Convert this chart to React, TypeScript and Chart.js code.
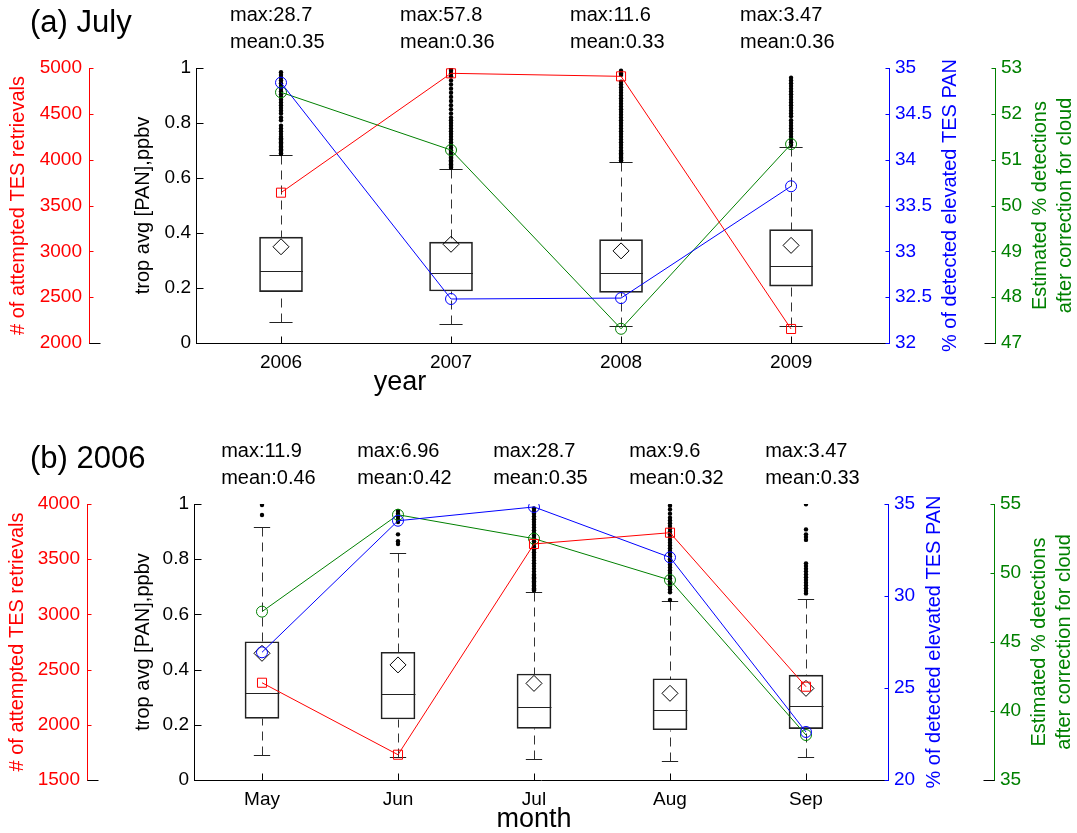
import React, { useEffect, useRef } from 'react';
import { Chart, registerables } from 'chart.js';

Chart.register(...registerables);

const FONT = '"Liberation Sans", Arial, Helvetica, sans-serif';
const RED = '#ff0000';
const BLUE = '#0000ff';
const GREEN = '#008000';

// ---------------- Panel (a) July ----------------
const julyYears = ['2006', '2007', '2008', '2009'];
const julyQ1 = [0.187, 0.189, 0.184, 0.207];
const julyMedian = [0.262, 0.256, 0.256, 0.28];
const julyQ3 = [0.385, 0.367, 0.376, 0.412];
const julyWhiskerLow = [0.076, 0.069, 0.062, 0.063];
const julyWhiskerHigh = [0.682, 0.633, 0.658, 0.713];
const julyMean = [0.35, 0.359, 0.335, 0.355];
const julyOutliers = [
  [0.985, 0.975, 0.965, 0.955, 0.945, 0.935, 0.925, 0.915, 0.905, 0.895, 0.885, 0.875, 0.865, 0.855, 0.845, 0.835, 0.82, 0.81, 0.79, 0.78, 0.77, 0.76, 0.75, 0.745, 0.74, 0.735, 0.73, 0.725, 0.72, 0.715, 0.71, 0.705, 0.7, 0.695, 0.69, 0.687],
  [0.998, 0.99, 0.98, 0.97, 0.955, 0.94, 0.925, 0.91, 0.895, 0.88, 0.865, 0.85, 0.835, 0.82, 0.81, 0.8, 0.79, 0.78, 0.77, 0.76, 0.75, 0.74, 0.73, 0.72, 0.71, 0.7, 0.695, 0.69, 0.685, 0.68, 0.675, 0.67, 0.665, 0.66, 0.655, 0.65, 0.645, 0.64, 0.637],
  [0.99, 0.98, 0.975, 0.95, 0.94, 0.93, 0.92, 0.91, 0.9, 0.89, 0.88, 0.87, 0.86, 0.85, 0.84, 0.83, 0.82, 0.81, 0.8, 0.79, 0.78, 0.77, 0.76, 0.75, 0.74, 0.73, 0.72, 0.71, 0.7, 0.695, 0.69, 0.685, 0.68, 0.675, 0.67, 0.665, 0.662],
  [0.965, 0.955, 0.945, 0.935, 0.925, 0.915, 0.905, 0.895, 0.885, 0.875, 0.865, 0.855, 0.845, 0.835, 0.825, 0.81, 0.8, 0.79, 0.78, 0.77, 0.76, 0.75, 0.74, 0.73, 0.72],
];
const julyAttempted = [3640, 4942, 4909, 2153];
const julyDetected = [34.84, 32.48, 32.49, 33.71];
const julyCorrected = [52.47, 51.21, 47.31, 51.34];
const julyMaxText = ['28.7', '57.8', '11.6', '3.47'];
const julyMeanText = ['0.35', '0.36', '0.33', '0.36'];
const julyRedTicks = [2000, 2500, 3000, 3500, 4000, 4500, 5000];
const julyBlackTicks = [0, 0.2, 0.4, 0.6, 0.8, 1];
const julyBlueTicks = [32, 32.5, 33, 33.5, 34, 34.5, 35];
const julyGreenTicks = [47, 48, 49, 50, 51, 52, 53];

// ---------------- Panel (b) 2006 ----------------
const months2006 = ['May', 'Jun', 'Jul', 'Aug', 'Sep'];
const monthQ1 = [0.223, 0.221, 0.187, 0.182, 0.186];
const monthMedian = [0.314, 0.312, 0.263, 0.253, 0.269];
const monthQ3 = [0.501, 0.463, 0.384, 0.367, 0.38];
const monthWhiskerLow = [0.091, 0.082, 0.076, 0.068, 0.084];
const monthWhiskerHigh = [0.918, 0.824, 0.682, 0.647, 0.656];
const monthMean = [0.459, 0.417, 0.35, 0.314, 0.332];
const monthOutliers = [
  [0.996, 0.96],
  [0.975, 0.965, 0.955, 0.945, 0.935, 0.89, 0.865, 0.855],
  [0.984, 0.975, 0.965, 0.955, 0.945, 0.935, 0.925, 0.915, 0.905, 0.895, 0.885, 0.875, 0.865, 0.855, 0.845, 0.835, 0.825, 0.815, 0.805, 0.795, 0.785, 0.775, 0.765, 0.755, 0.745, 0.74, 0.735, 0.73, 0.725, 0.72, 0.715, 0.71, 0.705, 0.7, 0.695, 0.69, 0.687],
  [0.994, 0.98, 0.965, 0.95, 0.94, 0.93, 0.92, 0.91, 0.9, 0.89, 0.88, 0.87, 0.86, 0.85, 0.84, 0.83, 0.82, 0.81, 0.8, 0.79, 0.78, 0.77, 0.76, 0.75, 0.74, 0.73, 0.72, 0.71, 0.7, 0.69, 0.68, 0.652],
  [0.999, 0.908, 0.89, 0.88, 0.87, 0.785, 0.775, 0.765, 0.755, 0.745, 0.735, 0.725, 0.715, 0.705, 0.695, 0.685, 0.676],
];
const monthAttempted = [2381, 1729, 3638, 3740, 2345];
const monthDetected = [26.94, 34.09, 34.84, 32.1, 22.61];
const monthCorrected = [47.2, 54.22, 52.49, 49.49, 38.26];
const monthMaxText = ['11.9', '6.96', '28.7', '9.6', '3.47'];
const monthMeanText = ['0.46', '0.42', '0.35', '0.32', '0.33'];
const monthRedTicks = [1500, 2000, 2500, 3000, 3500, 4000];
const monthBlackTicks = [0, 0.2, 0.4, 0.6, 0.8, 1];
const monthBlueTicks = [20, 25, 30, 35];
const monthGreenTicks = [35, 40, 45, 50, 55];

const RED_TITLE = '# of attempted TES retrievals';
const BLACK_TITLE = 'trop avg [PAN],ppbv';
const BLUE_TITLE = '% of detected elevated TES PAN';
const GREEN_TITLE_1 = 'Estimated % detections';
const GREEN_TITLE_2 = 'after correction for cloud';

type Panel = {
  title: string;
  xTitle: string;
  labels: string[];
  q1: number[]; med: number[]; q3: number[]; lo: number[]; hi: number[]; mean: number[];
  outliers: number[][];
  attempted: number[]; detected: number[]; corrected: number[];
  maxText: string[]; meanText: string[];
  redTicks: number[]; blackTicks: number[]; blueTicks: number[]; greenTicks: number[];
  // layout
  height: number; padTop: number; xAxisH: number; xMax: number; xTitleAt: number;
  boxPx: number; capHalf: number;
  redW: number; blackW: number; blueW: number; greenW: number;
  redTitlePad: number; blackTitlePad: number; blueTitleOff: number;
};

const panels: Panel[] = [
  {
    title: '(a) July', xTitle: 'year', labels: julyYears,
    q1: julyQ1, med: julyMedian, q3: julyQ3, lo: julyWhiskerLow, hi: julyWhiskerHigh, mean: julyMean,
    outliers: julyOutliers, attempted: julyAttempted, detected: julyDetected, corrected: julyCorrected,
    maxText: julyMaxText, meanText: julyMeanText,
    redTicks: julyRedTicks, blackTicks: julyBlackTicks, blueTicks: julyBlueTicks, greenTicks: julyGreenTicks,
    height: 415, padTop: 68, xAxisH: 72, xMax: 4.576, xTitleAt: 1.7,
    boxPx: 43, capHalf: 0.068,
    redW: 89, blackW: 107, blueW: 106, greenW: 82,
    redTitlePad: 6, blackTitlePad: 42, blueTitleOff: 61,
  },
  {
    title: '(b) 2006', xTitle: 'month', labels: months2006,
    q1: monthQ1, med: monthMedian, q3: monthQ3, lo: monthWhiskerLow, hi: monthWhiskerHigh, mean: monthMean,
    outliers: monthOutliers, attempted: monthAttempted, detected: monthDetected, corrected: monthCorrected,
    maxText: monthMaxText, meanText: monthMeanText,
    redTicks: monthRedTicks, blackTicks: monthBlackTicks, blueTicks: monthBlueTicks, greenTicks: monthGreenTicks,
    height: 418, padTop: 89, xAxisH: 53, xMax: 5.603, xTitleAt: 3.0,
    boxPx: 34, capHalf: 0.06,
    redW: 87, blackW: 107, blueW: 106, greenW: 83,
    redTitlePad: 5.5, blackTitlePad: 44, blueTitleOff: 46,
  },
];

const fmt = (v: number) => String(+Number(v).toFixed(2));
const al = (v: number) => Math.round(v) + 0.5;

function makePlugin(p: Panel) {
  return {
    id: 'boxExtras',
    beforeDatasetsDraw(chart: any) {
      const ctx = chart.ctx;
      const xs = chart.scales.x;
      const ys = chart.scales.y;
      ctx.save();
      ctx.lineWidth = 1;
      p.labels.forEach((_, i) => {
        const cx = al(xs.getPixelForValue(i + 1));
        const half = p.boxPx / 2;
        const capL = xs.getPixelForValue(i + 1 - p.capHalf);
        const capR = xs.getPixelForValue(i + 1 + p.capHalf);
        const yq1 = al(ys.getPixelForValue(p.q1[i]));
        const yq3 = al(ys.getPixelForValue(p.q3[i]));
        const ylo = al(ys.getPixelForValue(p.lo[i]));
        const yhi = al(ys.getPixelForValue(p.hi[i]));
        const ymed = al(ys.getPixelForValue(p.med[i]));
        ctx.strokeStyle = '#333';
        ctx.setLineDash([9, 6]);
        ctx.beginPath();
        ctx.moveTo(cx, yhi); ctx.lineTo(cx, yq3);
        ctx.moveTo(cx, ylo); ctx.lineTo(cx, yq1);
        ctx.stroke();
        ctx.setLineDash([]);
        ctx.strokeStyle = '#222';
        ctx.beginPath();
        ctx.moveTo(capL, yhi); ctx.lineTo(capR, yhi);
        ctx.moveTo(capL, ylo); ctx.lineTo(capR, ylo);
        ctx.moveTo(cx - half, ymed); ctx.lineTo(cx + half, ymed);
        ctx.stroke();
      });
      ctx.restore();
    },
    afterDraw(chart: any) {
      const ctx = chart.ctx;
      const { top, bottom } = chart.chartArea;
      const xs = chart.scales.x;
      ctx.save();
      ctx.lineWidth = 1;
      // inward tick marks
      const yTicks = (id: string, len: number, color: string) => {
        const s = chart.scales[id];
        const left = s.position === 'left';
        const bx = al(left ? s.right : s.left);
        const dir = left ? 1 : -1;
        ctx.strokeStyle = color;
        ctx.beginPath();
        s.ticks.forEach((t: any) => {
          const y = al(s.getPixelForValue(t.value));
          ctx.moveTo(bx, y); ctx.lineTo(bx + dir * len, y);
        });
        ctx.stroke();
      };
      yTicks('yRed', 4, RED);
      yTicks('y', 7, '#000');
      yTicks('yBlue', 4, BLUE);
      yTicks('yGreen', 4, GREEN);
      ctx.strokeStyle = '#000';
      ctx.beginPath();
      xs.ticks.forEach((t: any) => {
        const x = al(xs.getPixelForValue(t.value));
        ctx.moveTo(x, al(bottom)); ctx.lineTo(x, al(bottom) - 7);
      });
      // short base lines of the red and green axes
      const rx = al(chart.scales.yRed.right);
      const gx = al(chart.scales.yGreen.left);
      ctx.moveTo(rx, al(bottom)); ctx.lineTo(rx + 11, al(bottom));
      ctx.moveTo(gx - 11, al(bottom)); ctx.lineTo(gx, al(bottom));
      ctx.stroke();

      // texts
      ctx.fillStyle = '#000';
      ctx.textAlign = 'left';
      ctx.textBaseline = 'alphabetic';
      ctx.font = `31px ${FONT}`;
      ctx.fillText(p.title, 30, top - 36);
      ctx.font = `20px ${FONT}`;
      p.labels.forEach((_, i) => {
        const x = xs.getPixelForValue(i + 1 - 0.3);
        ctx.fillText('max:' + p.maxText[i], x, top - 47);
        ctx.fillText('mean:' + p.meanText[i], x, top - 20);
      });
      ctx.font = `27px ${FONT}`;
      ctx.textAlign = 'center';
      ctx.fillText(p.xTitle, xs.getPixelForValue(p.xTitleAt), bottom + 47);

      const midY = (top + bottom) / 2;
      const rot = (text: string, x: number, color: string) => {
        ctx.save();
        ctx.translate(x, midY);
        ctx.rotate(-Math.PI / 2);
        ctx.fillStyle = color;
        ctx.font = `20px ${FONT}`;
        ctx.textAlign = 'center';
        ctx.textBaseline = 'middle';
        ctx.fillText(text, 0, 0);
        ctx.restore();
      };
      rot(BLUE_TITLE, chart.scales.yBlue.left + p.blueTitleOff, BLUE);
      rot(GREEN_TITLE_1, chart.scales.yGreen.left + 45, GREEN);
      rot(GREEN_TITLE_2, chart.scales.yGreen.left + 70, GREEN);
      ctx.restore();
    },
  };
}

function yScale(position: string, weight: number, ticks: number[], color: string, width: number, pad: number, title?: { text: string; pad: number; color: string }) {
  return {
    type: 'linear',
    position,
    weight,
    min: ticks[0],
    max: ticks[ticks.length - 1],
    grid: { display: false, drawTicks: false, drawOnChartArea: false },
    border: { display: true, color, width: 1 },
    ticks: { color, font: { family: FONT, size: 19 }, padding: pad, callback: (v: any) => fmt(v) },
    afterBuildTicks: (s: any) => { s.ticks = ticks.map((v) => ({ value: v })); },
    afterFit: (s: any) => { s.width = width; },
    title: title
      ? { display: true, text: title.text, color: title.color, font: { family: FONT, size: 20 }, padding: { top: title.pad, bottom: 0 } }
      : { display: false },
  };
}

function buildConfig(p: Panel): any {
  const pts = (vals: number[]) => vals.map((v, i) => ({ x: i + 1, y: v }));
  const outlierPts: { x: number; y: number }[] = [];
  p.outliers.forEach((arr, i) => arr.forEach((v) => outlierPts.push({ x: i + 1, y: v })));
  const lineDs = (data: number[], color: string, axis: string, style: string, r: number, order: number) => ({
    type: 'line',
    data: pts(data),
    yAxisID: axis,
    xAxisID: 'x',
    borderColor: color,
    borderWidth: 1,
    backgroundColor: 'transparent',
    pointStyle: style,
    pointRadius: r,
    pointBorderColor: color,
    pointBackgroundColor: 'transparent',
    pointBorderWidth: 1,
    tension: 0,
    fill: false,
    order,
  });
  return {
    type: 'bar',
    data: {
      datasets: [
        {
          type: 'bar',
          data: p.q1.map((v, i) => ({ x: i + 1, y: [v, p.q3[i]] })),
          xAxisID: 'x',
          yAxisID: 'y',
          backgroundColor: 'transparent',
          borderColor: '#222',
          borderWidth: 1,
          borderSkipped: false,
          barThickness: p.boxPx,
          order: 10,
        },
        {
          type: 'line',
          data: outlierPts,
          xAxisID: 'x',
          yAxisID: 'y',
          showLine: false,
          pointRadius: 2.2,
          pointBackgroundColor: '#000',
          pointBorderWidth: 0,
          order: 9,
        },
        {
          type: 'line',
          data: pts(p.mean),
          xAxisID: 'x',
          yAxisID: 'y',
          showLine: false,
          pointStyle: 'rectRot',
          pointRadius: 8,
          pointBorderColor: '#000',
          pointBackgroundColor: 'transparent',
          pointBorderWidth: 1,
          order: 8,
        },
        lineDs(p.corrected, GREEN, 'yGreen', 'circle', 5.5, 3),
        lineDs(p.detected, BLUE, 'yBlue', 'circle', 5.5, 2),
        lineDs(p.attempted, RED, 'yRed', 'rect', 6.4, 1),
      ],
    },
    options: {
      responsive: false,
      maintainAspectRatio: false,
      animation: false,
      events: [],
      layout: { padding: { top: p.padTop, bottom: 0, left: 0, right: 0 } },
      plugins: { legend: { display: false }, tooltip: { enabled: false }, title: { display: false } },
      scales: {
        x: {
          type: 'linear',
          position: 'bottom',
          min: 0.5,
          max: p.xMax,
          offset: false,
          grid: { display: false, drawTicks: false, drawOnChartArea: false, offset: false },
          border: { display: true, color: '#000', width: 1 },
          ticks: {
            color: '#000',
            font: { family: FONT, size: 19 },
            padding: 8,
            maxRotation: 0,
            autoSkip: false,
            callback: (v: any) => p.labels[Math.round(v) - 1] ?? '',
          },
          afterBuildTicks: (s: any) => { s.ticks = p.labels.map((_, i) => ({ value: i + 1 })); },
          afterFit: (s: any) => { s.height = p.xAxisH; },
        },
        yRed: yScale('left', 2, p.redTicks, RED, p.redW, 7, { text: RED_TITLE, pad: p.redTitlePad, color: RED }),
        y: yScale('left', 1, p.blackTicks, '#000', p.blackW, 5, { text: BLACK_TITLE, pad: p.blackTitlePad, color: '#000' }),
        yBlue: yScale('right', 1, p.blueTicks, BLUE, p.blueW, 6),
        yGreen: yScale('right', 2, p.greenTicks, GREEN, p.greenW, 6),
      },
    },
    plugins: [makePlugin(p)],
  };
}

function PanelChart({ p, top }: { p: Panel; top: number }) {
  const ref = useRef<HTMLCanvasElement | null>(null);
  useEffect(() => {
    if (!ref.current) return;
    const chart = new Chart(ref.current, buildConfig(p));
    return () => chart.destroy();
  }, [p]);
  return (
    <canvas
      ref={ref}
      width={1077}
      height={p.height}
      style={{ position: 'absolute', left: 0, top, width: 1077, height: p.height, display: 'block' }}
    />
  );
}

export default function App() {
  return (
    <div style={{ position: 'absolute', left: 0, top: 0, width: 1077, height: 833, background: '#fff', overflow: 'hidden' }}>
      <PanelChart p={panels[0]} top={0} />
      <PanelChart p={panels[1]} top={415} />
    </div>
  );
}
